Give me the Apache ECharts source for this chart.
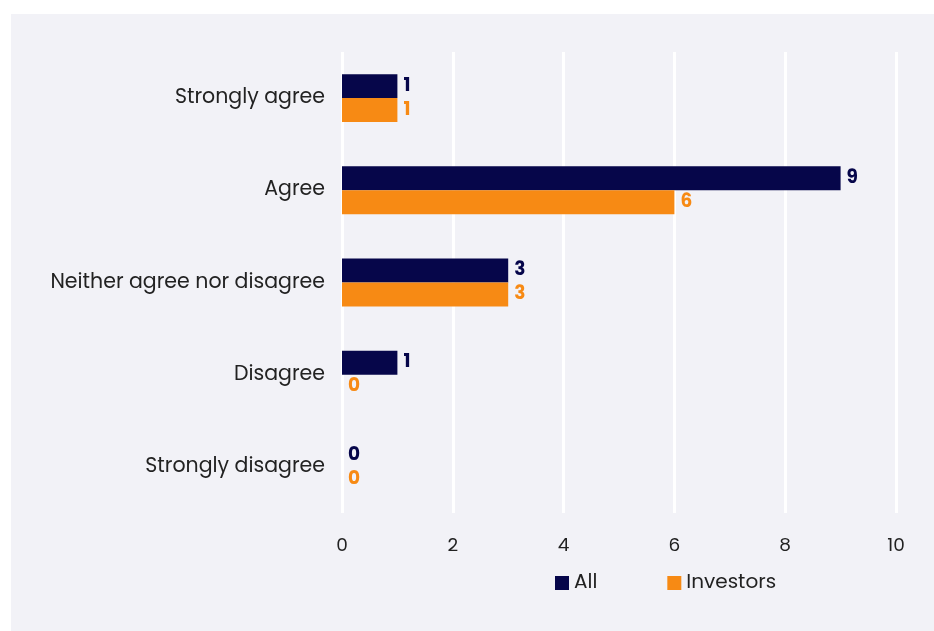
<!DOCTYPE html>
<html><head><meta charset="utf-8">
<script src="https://cdn.jsdelivr.net/npm/echarts@6/dist/echarts.min.js"></script>
<style>html,body{margin:0;padding:0;background:#fff}#c{width:934px;height:631px}</style>
</head><body><div id="c"></div>
<script>
const categories = ["Strongly agree","Agree","Neither agree nor disagree","Disagree","Strongly disagree"];
const allValues = [1,9,3,1,0];
const investorValues = [1,6,3,0,0];
const xTicks = {min:0,max:10,interval:2};
const font = "Poppins, Inter, 'Noto Sans', sans-serif";
const chart = echarts.init(document.getElementById('c'));
chart.setOption({
  backgroundColor:'#ffffff',
  animation:false,
  graphic:[{type:'rect',z:-10,shape:{x:11,y:14,width:923,height:617},style:{fill:'#f2f2f7'}}],
  grid:{left:342,right:38,top:52,bottom:118},
  legend:{top:568,left:550,itemWidth:14,itemHeight:14,itemGap:70,icon:'rect',
    textStyle:{fontFamily:font,fontSize:20,color:'#222'},data:['All','Investors']},
  xAxis:{type:'value',min:xTicks.min,max:xTicks.max,interval:xTicks.interval,
    axisLine:{show:false},axisTick:{show:false},
    splitLine:{lineStyle:{color:'#ffffff',width:3}},
    axisLabel:{fontFamily:font,fontSize:18.5,color:'#222',margin:24}},
  yAxis:{type:'category',data:categories,inverse:true,
    axisLine:{show:false},axisTick:{show:false},
    axisLabel:{fontFamily:font,fontSize:20.5,color:'#222',margin:17,padding:[3,0,0,0]}},
  series:[
    {name:'All',type:'bar',data:allValues,barGap:'0%',barCategoryGap:'48%',
     itemStyle:{color:'#06064a'},
     label:{show:true,position:'right',distance:6,fontFamily:font,fontSize:18.5,fontWeight:'bold',color:'#06064a',padding:[3,0,0,0]}},
    {name:'Investors',type:'bar',data:investorValues,
     itemStyle:{color:'#f78a14'},
     label:{show:true,position:'right',distance:6,fontFamily:font,fontSize:18.5,fontWeight:'bold',color:'#f78a14',padding:[3,0,0,0]}}
  ]
});
</script></body></html>
